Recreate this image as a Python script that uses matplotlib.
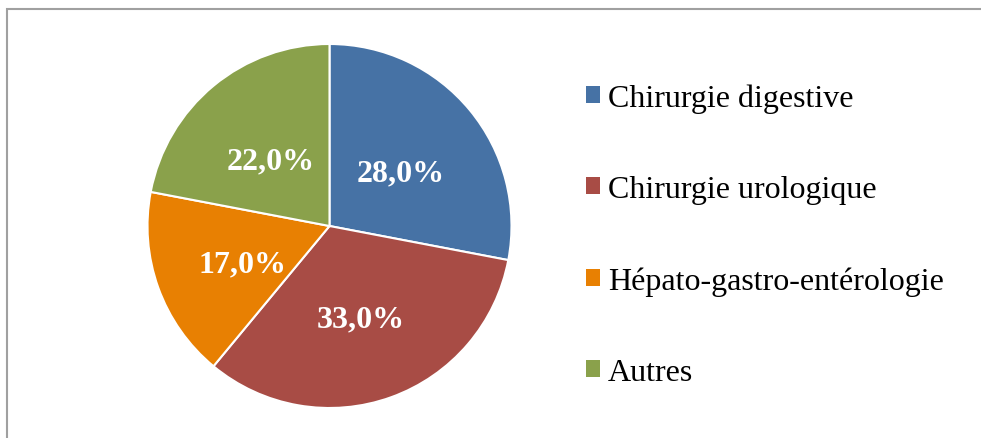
import matplotlib
matplotlib.use("Agg")
import matplotlib.pyplot as plt
from matplotlib.patches import Rectangle

plt.rcParams["font.family"] = ["Liberation Serif", "DejaVu Serif"]

categories = ["Chirurgie digestive", "Chirurgie urologique",
              "Hépato-gastro-entérologie", "Autres"]
values = [28.0, 33.0, 17.0, 22.0]
colors = ["#4672A5", "#A84C45", "#E88002", "#8AA14B"]


def fmt_pct(p):
    return f"{p:.1f}%".replace(".", ",")


def main():
    W, H = 981, 439
    fig = plt.figure(figsize=(W / 100, H / 100), dpi=100)
    fig.patch.set_facecolor("white")

    # outer grey frame (top and left visible)
    fig.add_artist(Rectangle((7 / W, -0.1), 1.1, (H - 9.5) / H + 0.1,
                             transform=fig.transFigure, fill=False,
                             edgecolor="#a0a0a0", linewidth=1.5))

    # pie axes placed by pixel geometry
    cx, cy, r = 329.5, 227, 182
    ax = fig.add_axes([(cx - r) / W, (H - cy - r) / H, 2 * r / W, 2 * r / H])
    wedges, texts, autotexts = ax.pie(
        values, colors=colors, startangle=90, counterclock=False,
        autopct=fmt_pct, pctdistance=0.51, radius=1,
        wedgeprops=dict(edgecolor="white", linewidth=1.5),
        textprops=dict(color="white", fontsize=23, fontweight="bold"))
    # nudge labels down a little (baseline centring)
    for t in autotexts:
        x, y = t.get_position()
        t.set_position((x, y - 6 / r))
    ax.set_xlim(-1, 1)
    ax.set_ylim(-1, 1)
    ax.axis("off")

    leg = fig.legend(wedges, categories, loc="upper left",
                     bbox_to_anchor=(586 / W, 1 - 84 / H),
                     frameon=False, fontsize=23,
                     handlelength=0.44, handleheight=0.44,
                     handletextpad=0.25, labelspacing=1.95,
                     borderaxespad=0, borderpad=0)
    for p in leg.get_patches():
        p.set_edgecolor("none")

    fig.savefig("out.png", dpi=100)


if __name__ == "__main__":
    main()
